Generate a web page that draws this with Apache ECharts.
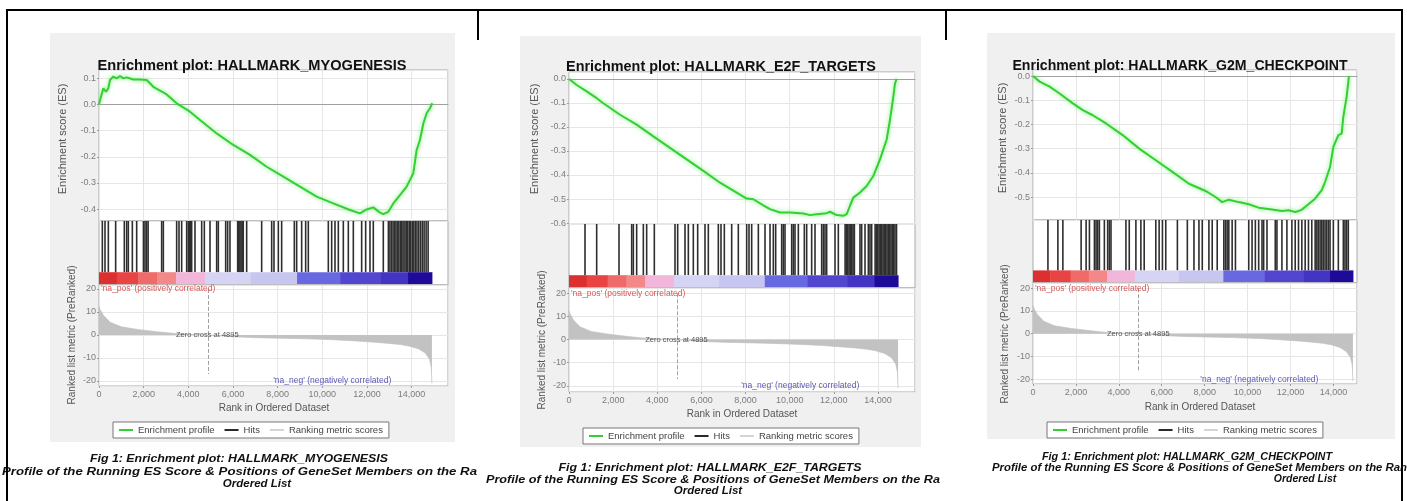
<!DOCTYPE html>
<html><head><meta charset="utf-8">
<script src="https://cdn.jsdelivr.net/npm/echarts@6/dist/echarts.min.js"></script>
<style>html,body{margin:0;padding:0;background:#fff}#c{width:1407px;height:501px}</style>
</head><body><div id="c"></div>
<script>
// ---------------- DATA ----------------
const PANEL_TITLES = ['Enrichment plot: HALLMARK_MYOGENESIS', 'Enrichment plot: HALLMARK_E2F_TARGETS', 'Enrichment plot: HALLMARK_G2M_CHECKPOINT'];
const CAPTION_LINE1 = ['Fig 1: Enrichment plot: HALLMARK_MYOGENESIS', 'Fig 1: Enrichment plot: HALLMARK_E2F_TARGETS', 'Fig 1: Enrichment plot: HALLMARK_G2M_CHECKPOINT'];
const CAPTION_LINE2 = ['Profile of the Running ES Score & Positions of GeneSet Members on the Ra', 'Profile of the Running ES Score & Positions of GeneSet Members on the Ra', 'Profile of the Running ES Score & Positions of GeneSet Members on the Ranked'];
const CAPTION_LINE3 = ['Ordered List', 'Ordered List', 'Ordered List'];
const ES_AXIS_TITLE = 'Enrichment score (ES)';
const METRIC_AXIS_TITLE = 'Ranked list metric (PreRanked)';
const RANK_AXIS_TITLE = 'Rank in Ordered Dataset';
const LEGEND_NAMES = ['Enrichment profile', 'Hits', 'Ranking metric scores'];
const POS_LABEL = "'na_pos' (positively correlated)";
const NEG_LABEL = "'na_neg' (negatively correlated)";
const ZERO_CROSS = 4895;
const ZERO_LABEL = 'Zero cross at 4895';

// running enrichment score [rank, ES]
const ES_MYO = [[0,0],[149,0.048],[194,0.061],[313,0.048],[418,0.061],[493,0.093],[642,0.106],[791,0.099],[940,0.108],[1090,0.099],[1239,0.103],[1537,0.095],[1836,0.095],[2135,0.093],[2433,0.067],[3030,0.038],[3478,0.004],[4075,-0.028],[4523,-0.060],[5269,-0.111],[6016,-0.155],[6762,-0.193],[7508,-0.238],[8255,-0.276],[9001,-0.314],[9747,-0.352],[10494,-0.378],[11240,-0.403],[11688,-0.416],[11987,-0.401],[12285,-0.393],[12584,-0.413],[12733,-0.419],[12957,-0.410],[13181,-0.378],[13480,-0.346],[13778,-0.314],[14077,-0.263],[14226,-0.174],[14375,-0.136],[14525,-0.073],[14674,-0.034],[14822,-0.015],[14927,0.004]];
const ES_E2F = [[0,0],[347,-0.025],[800,-0.052],[1254,-0.080],[1556,-0.101],[2311,-0.149],[3066,-0.190],[3821,-0.239],[4576,-0.287],[5332,-0.335],[6087,-0.383],[6842,-0.432],[7597,-0.473],[8050,-0.498],[8352,-0.501],[8805,-0.526],[9107,-0.542],[9560,-0.556],[10013,-0.556],[10618,-0.560],[10920,-0.567],[11222,-0.563],[11675,-0.559],[11826,-0.553],[12128,-0.567],[12430,-0.570],[12581,-0.563],[12732,-0.528],[12883,-0.494],[13185,-0.473],[13487,-0.446],[13789,-0.404],[14092,-0.335],[14394,-0.252],[14545,-0.170],[14696,-0.073],[14771,-0.018],[14847,0]];
const ES_G2M = [[0,0],[309,-0.023],[773,-0.044],[1237,-0.072],[1856,-0.113],[2320,-0.141],[2784,-0.162],[3403,-0.196],[4176,-0.244],[4950,-0.300],[5723,-0.348],[6497,-0.396],[7270,-0.445],[8043,-0.475],[8507,-0.500],[8817,-0.521],[9126,-0.511],[9590,-0.521],[10054,-0.530],[10518,-0.544],[11137,-0.552],[11601,-0.558],[11910,-0.555],[12220,-0.562],[12375,-0.558],[12529,-0.552],[12838,-0.530],[13147,-0.507],[13457,-0.472],[13611,-0.438],[13843,-0.376],[13998,-0.293],[14230,-0.244],[14385,-0.238],[14462,-0.169],[14617,-0.086],[14725,0]];

// gene set member positions (ranks)
const HITS_MYO = [149,269,418,746,1134,1239,1313,1493,1687,1990,2060,2130,2200,2806,2881,3478,3583,3702,3926,4000,4050,4100,4150,4299,4598,4717,4971,5270,5344,5673,5762,5866,6210,6260,6310,6360,6410,6460,6613,7285,7733,7837,8031,8180,8748,8852,9076,9255,9374,10270,10420,10569,10718,10942,11166,11390,11763,11942,12136,12285,12733,12960,13030,13100,13170,13240,13300,13370,13430,13500,13560,13620,13700,13760,13830,13900,13960,14030,14100,14170,14240,14320,14400,14480,14560,14650,14740];
const HITS_E2F = [725,1254,2266,2840,2915,3066,3368,3519,3866,4803,4924,5256,5407,5633,5830,6162,6313,6766,6887,7038,7371,7672,8050,8156,8277,8579,8881,9108,9258,9364,9636,9711,9787,10089,10164,10240,10391,10663,10769,10995,11146,11448,11524,11599,11675,12053,12203,12510,12570,12630,12690,12750,12810,12870,12930,13185,13260,13412,13563,13638,13714,13870,13930,13990,14050,14110,14170,14230,14290,14350,14410,14470,14530,14590,14650,14710,14770,14840];
const HITS_G2M = [696,1160,1392,2243,2475,2630,2862,2939,3017,3094,3326,3480,3558,3635,4331,4486,4795,5027,5182,5723,5878,6032,6187,6729,7193,7502,7734,7889,8198,8353,8585,8894,8971,9048,9126,9281,9435,10054,10209,10363,10518,10673,10750,10905,11291,11369,11601,11833,12065,12220,12374,12529,12684,12838,12993,13150,13230,13300,13380,13460,13530,13610,13690,13770,13844,13998,14230,14463,14540,14617,14695];

// ranked list metric [rank, metric]
const METRIC = [[0,12.5],[50,11],[200,8.5],[500,5.5],[1000,3.5],[1800,2.3],[2600,1.4],[3300,0.7],[4000,0.3],[4895,0],[6000,-0.8],[7000,-1.2],[8000,-1.4],[9300,-1.7],[10500,-2.1],[11500,-2.6],[12500,-3.3],[13000,-3.7],[13500,-4.2],[13900,-4.9],[14300,-6.0],[14600,-7.8],[14800,-10.5],[14880,-14],[14910,-21]];

// colour-bar rank boundaries
const COLORBAR_EDGES = [0,800,1750,2600,3450,4750,6800,8870,10800,12600,13840,14910];

// ---------------- STYLE / LAYOUT ----------------
const COLORBAR_FILL = ['#dc3030','#e84444','#f06a6a','#f28888','#f2b6da','#d6d4f4','#c6c6f0','#6868e0','#5246d0','#4434c4','#1e0a98'];
const FONT = "'Liberation Sans', Arial, Helvetica, sans-serif";
const ES_SETS = [ES_MYO, ES_E2F, ES_G2M];
const HIT_SETS = [HITS_MYO, HITS_E2F, HITS_G2M];
const L = [
  {left:99, width:349, esTop:70, esH:151, midH:64, metH:101, xMax:15630, esMin:-0.445, esMax:0.131, mMin:-22.2, mMax:21.7,
   bg:[50,33,405,409], title:[252,66,14.6], esT:[63,139], mT:[72,335], rT:[274,408], leg:[113,422],
   cap:[[239,459],[2,472],[257,484]], capSize:11.5, capScale:[1.075,1.149,1.0]},
  {left:569, width:346, esTop:72, esH:152, midH:64, metH:104, xMax:15677, esMin:-0.604, esMax:0.029, mMin:-22.7, mMax:22.3,
   bg:[520,36,401,411], title:[721,67,14.4], esT:[535,139], mT:[542,340], rT:[742,414], leg:[583,428],
   cap:[[710,468],[486,480],[708,491]], capSize:11.5, capScale:[1.076,1.098,1.0]},
  {left:1033, width:324, esTop:70, esH:150, midH:63, metH:101, xMax:15100, esMin:-0.595, esMax:0.025, mMin:-22.1, mMax:22.3,
   bg:[987,33,408,406], title:[1180,66,14.1], esT:[1003,138], mT:[1005,334], rT:[1200,407], leg:[1047,422],
   cap:[[1187,457],[992,468],[1305,479]], capSize:10.5, capScale:[1.034,1.081,1.0]}
];
const fmt = v => String(Math.round(v)).replace(/\B(?=(\d{3})+(?!\d))/g, ',');
const gridLine = {show:true, lineStyle:{color:'#e6e6e6', width:1}};
const tickLbl = {fontFamily:FONT, fontSize:9, color:'#7c7c7c'};

const grid = [], xAxis = [], yAxis = [], series = [], legend = [], graphic = [];

L.forEach((p, i) => {
  const gE = 3*i, gM = 3*i+1, gB = 3*i+2;
  const midTop = p.esTop + p.esH, metTop = midTop + p.midH;
  const gbase = {left:p.left, width:p.width, show:true, backgroundColor:'#fff', borderColor:'#a9a9a9', borderWidth:1, outerBoundsMode:'none', containLabel:false};
  grid.push(Object.assign({top:p.esTop, height:p.esH}, gbase));
  grid.push(Object.assign({top:midTop, height:p.midH}, gbase));
  grid.push(Object.assign({top:metTop, height:p.metH}, gbase));

  xAxis.push({gridIndex:gE, type:'value', min:0, max:p.xMax, interval:2000, axisLabel:{show:false}, axisTick:{show:false},
    axisLine:{show:true, onZero:true, lineStyle:{color:'#a0a0a0', width:1}}, splitLine:gridLine});
  xAxis.push({gridIndex:gM, type:'value', min:0, max:p.xMax, interval:2000, show:false, splitLine:{show:false}});
  xAxis.push({gridIndex:gB, type:'value', min:0, max:p.xMax, interval:2000,
    axisLabel:Object.assign({margin:4, formatter:fmt, showMaxLabel:false}, tickLbl),
    axisTick:{show:true, length:2, lineStyle:{color:'#999'}}, axisLine:{show:false, onZero:false}, splitLine:gridLine});

  yAxis.push({gridIndex:gE, type:'value', min:p.esMin, max:p.esMax, splitNumber:5,
    axisLabel:Object.assign({margin:3, showMinLabel:false, showMaxLabel:false, formatter:v => (Math.abs(v) < 1e-9 ? 0 : v).toFixed(1)}, tickLbl),
    axisTick:{show:true, length:2, lineStyle:{color:'#999'}}, axisLine:{show:false}, splitLine:gridLine});
  yAxis.push({gridIndex:gM, type:'value', min:0, max:1, show:false, splitLine:{show:false}});
  yAxis.push({gridIndex:gB, type:'value', min:p.mMin, max:p.mMax, splitNumber:4,
    axisLabel:Object.assign({margin:3, showMinLabel:false, showMaxLabel:false}, tickLbl),
    axisTick:{show:true, length:2, lineStyle:{color:'#999'}}, axisLine:{show:false}, splitLine:gridLine});

  series.push({type:'line', name:LEGEND_NAMES[0], xAxisIndex:gE, yAxisIndex:gE, data:ES_SETS[i], showSymbol:false, symbol:'none',
    lineStyle:{color:'#33cf33', width:2, shadowColor:'rgba(90,235,90,0.8)', shadowBlur:4}, itemStyle:{color:'#33cf33'}, z:5, animation:false});
  series.push({type:'custom', name:LEGEND_NAMES[1], xAxisIndex:gM, yAxisIndex:gM, data:HIT_SETS[i].map(r => [r, 1]),
    itemStyle:{color:'#2a2a2a'}, clip:true, animation:false,
    renderItem:(params, api) => {
      const t = api.coord([api.value(0), 1]), b = api.coord([api.value(0), 0.2]);
      return {type:'rect', shape:{x:t[0]-0.8, y:t[1], width:1.6, height:b[1]-t[1]}, style:{fill:'#2e2e2e'}};
    }});
  series.push({type:'custom', xAxisIndex:gM, yAxisIndex:gM, data:COLORBAR_EDGES.slice(0,-1).map((s,k) => [s, COLORBAR_EDGES[k+1]]),
    encode:{x:[0,1]}, clip:true, animation:false, silent:true,
    renderItem:(params, api) => {
      const a = api.coord([api.value(0), 0.2]), b = api.coord([api.value(1), 0.015]);
      return {type:'rect', shape:{x:a[0], y:a[1], width:b[0]-a[0]+0.5, height:b[1]-a[1]}, style:{fill:COLORBAR_FILL[params.dataIndex]}};
    }});
  series.push({type:'line', name:LEGEND_NAMES[2], xAxisIndex:gB, yAxisIndex:gB, data:METRIC, showSymbol:false, symbol:'none',
    lineStyle:{width:0.6, color:'#bdbdbd'}, areaStyle:{color:'#c2c2c2', opacity:1}, itemStyle:{color:'#d4d4d4'}, animation:false,
    markLine:{silent:true, symbol:'none', label:{show:false}, lineStyle:{type:'dashed', color:'#a0a0a0', width:1},
      data:[[{coord:[ZERO_CROSS, 20]}, {coord:[ZERO_CROSS, -17]}]]},
    markPoint:{silent:true, symbol:'circle', symbolSize:0, data:[
      {coord:[0, 20], label:{show:true, position:'right', distance:2, formatter:POS_LABEL, fontFamily:FONT, fontSize:8.5, color:'#d25a5a'}},
      {coord:[7800, -20], label:{show:true, position:'right', distance:0, formatter:NEG_LABEL, fontFamily:FONT, fontSize:8.5, color:'#5a58b4'}},
      {coord:[3450, 0], label:{show:true, position:'right', distance:0, formatter:ZERO_LABEL, fontFamily:FONT, fontSize:7.5, color:'#555'}}
    ]}});

  legend.push({left:p.leg[0], top:p.leg[1], orient:'horizontal', icon:'rect', itemWidth:14, itemHeight:2, itemGap:10,
    padding:[3,6], borderColor:'#777', borderWidth:1, borderRadius:0, backgroundColor:'#fff', selectedMode:false,
    textStyle:{fontFamily:FONT, fontSize:9.5, color:'#444'}, data:LEGEND_NAMES});

  graphic.push({type:'rect', z:-10, silent:true, shape:{x:p.bg[0], y:p.bg[1], width:p.bg[2], height:p.bg[3]}, style:{fill:'#f0f0f0'}});
  graphic.push({type:'text', z:10, x:p.title[0], y:p.title[1], style:{text:PANEL_TITLES[i], font:'bold '+p.title[2]+'px '+FONT, fill:'#111', align:'center', verticalAlign:'middle'}});
  graphic.push({type:'text', z:10, x:p.esT[0], y:p.esT[1], rotation:Math.PI/2, style:{text:ES_AXIS_TITLE, font:'11px '+FONT, fill:'#555', align:'center', verticalAlign:'middle'}});
  graphic.push({type:'text', z:10, x:p.mT[0], y:p.mT[1], rotation:Math.PI/2, style:{text:METRIC_AXIS_TITLE, font:'10px '+FONT, fill:'#555', align:'center', verticalAlign:'middle'}});
  graphic.push({type:'text', z:10, x:p.rT[0], y:p.rT[1], style:{text:RANK_AXIS_TITLE, font:'10px '+FONT, fill:'#555', align:'center', verticalAlign:'middle'}});
  const cf = 'italic bold '+p.capSize+'px '+FONT;
  const aligns = ['center','left','center'];
  [CAPTION_LINE1, CAPTION_LINE2, CAPTION_LINE3].forEach((lines, k) => {
    graphic.push({type:'text', z:10, x:p.cap[k][0], y:p.cap[k][1], scaleX:p.capScale[k], scaleY:1,
      style:{text:lines[i], font:cf, fill:'#111', align:aligns[k], verticalAlign:'middle'}});
  });
});

// table borders
const border = (x1,y1,x2,y2,w) => ({type:'line', z:20, silent:true, shape:{x1,y1,x2,y2}, style:{stroke:'#000', lineWidth:w}});
graphic.push(border(6,10,1403,10,2));
graphic.push(border(7,9,7,501,2));
graphic.push(border(478,9,478,40,2));
graphic.push(border(946,9,946,40,2));
graphic.push(border(1402,9,1402,501,2));

const chart = echarts.init(document.getElementById('c'), null, {renderer:'canvas'});
chart.setOption({backgroundColor:'#fff', animation:false, grid, xAxis, yAxis, series, legend, graphic});
</script></body></html>
